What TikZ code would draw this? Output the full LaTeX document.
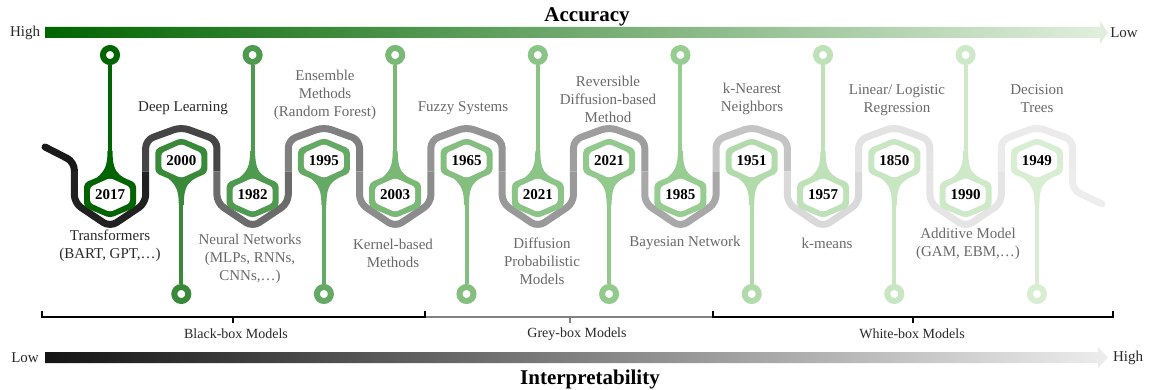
\documentclass[tikz,border=0pt]{standalone}
\usepackage{fontspec}
\setmainfont{Liberation Serif}
\usepackage{tikz}
\usetikzlibrary{positioning}

\definecolor{g0}{RGB}{0,100,0}
\definecolor{g1}{RGB}{56,138,56}
\definecolor{g2}{RGB}{78,154,78}
\definecolor{g3}{RGB}{100,170,100}
\definecolor{g4}{RGB}{122,184,118}
\definecolor{g5}{RGB}{132,191,128}
\definecolor{g6}{RGB}{138,196,134}
\definecolor{g7}{RGB}{146,201,140}
\definecolor{g8}{RGB}{152,205,146}
\definecolor{g9}{RGB}{178,219,172}
\definecolor{g10}{RGB}{190,225,184}
\definecolor{g11}{RGB}{200,230,194}
\definecolor{g12}{RGB}{206,233,200}
\definecolor{g13}{RGB}{216,238,210}
\definecolor{accmid}{RGB}{140,182,136}
\definecolor{acclight}{RGB}{226,239,222}
\definecolor{txtdark}{RGB}{40,40,40}
\definecolor{txtgray}{RGB}{105,105,105}

\tikzset{
    yr/.style={font=\fontsize{15}{18}\selectfont\bfseries, inner sep=0pt},
    lbl/.style={font=\fontsize{15}{18}\selectfont, align=center, text=txtgray, inner sep=0pt},
    axlbl/.style={font=\fontsize{15}{18}\selectfont, text=txtdark, inner sep=0pt},
    axtitle/.style={font=\fontsize{21}{21}\selectfont\bfseries, inner sep=0pt},
    brklbl/.style={font=\fontsize{14}{16}\selectfont, text=txtdark, inner sep=0pt},
    pinring/.style={circle, draw, fill=white, line width=6pt, minimum size=14pt, inner sep=0pt},
    stem/.style={line width=4pt},
    snake/.style={line width=7pt, rounded corners=8pt},
    brk/.style={line width=2pt},
    lowpin/.pic={
        \fill[fill=#1] (-2.5,-44) .. controls (-2.5,-30) and (-5,-24) .. (-13,-17.5)
            [rounded corners=4pt] -- (-26,-12) -- (-26,12) -- (0,23) -- (26,12) -- (26,-12) -- (13,-17.5)
            [sharp corners] .. controls (5,-24) and (2.5,-30) .. (2.5,-44) -- cycle;
        \fill[white, rounded corners=3pt] (0,-17) -- (20,-8) -- (20,8) -- (0,17) -- (-20,8) -- (-20,-8) -- cycle;
        \coordinate (-neck) at (0,-43);
    },
    highpin/.pic={
        \fill[fill=#1] (-2.5,44) .. controls (-2.5,30) and (-5,24) .. (-13,17.5)
            [rounded corners=4pt] -- (-26,12) -- (-26,-12) -- (0,-23) -- (26,-12) -- (26,12) -- (13,17.5)
            [sharp corners] .. controls (5,24) and (2.5,30) .. (2.5,44) -- cycle;
        \fill[white, rounded corners=3pt] (0,17) -- (20,8) -- (20,-8) -- (0,-17) -- (-20,-8) -- (-20,8) -- cycle;
        \coordinate (-neck) at (0,43);
    }
}

\begin{document}
\begin{tikzpicture}[x=1pt, y=-1pt]
    \useasboundingbox (0,0) rectangle (1155,390);

    % Axes
    \shade[left color=g0, middle color=accmid, right color=acclight]
        (45,27) -- (1100,27) -- (1100,21) -- (1108,32.5) -- (1100,44) -- (1100,38) -- (45,38) -- cycle;
    \shade[left color=black!92, middle color=black!45, right color=black!7]
        (45,352) -- (1098,352) -- (1098,347) -- (1108,357.5) -- (1098,368) -- (1098,363) -- (45,363) -- cycle;
    \node[axtitle] (acc) at (587,17) {Accuracy};
    \node[axtitle] (interp) at (590,379) {Interpretability};
    \node[axlbl] (acchigh) at (25,33) {High};
    \node[axlbl] (acclow) at (1124,33) {Low};
    \node[axlbl] (intlow) at (25,358) {Low};
    \node[axlbl] (inthigh) at (1128,358) {High};

    % Snake
    \draw[snake, draw=black!90, line cap=round] (45,147) -- (74.35,162) -- (74.35,171.5);
    \foreach \x/\sh/\pk/\s in {110/203/227/87, 181.3/140/127/73, 252.6/203/227/58, 323.9/140/127/50,
        395.2/203/227/45, 466.5/140/127/42, 537.8/203/227/40, 609.1/140/127/38, 680.4/203/227/34,
        751.7/140/127/23, 823/203/227/15, 894.3/140/127/11, 965.6/203/227/10, 1036.9/140/127/8}
        \draw[snake, draw=black!\s] (\x-35.65,171.5) -- (\x-35.65,\sh) -- (\x,\pk) -- (\x+35.65,\sh) -- (\x+35.65,171.5);
    \draw[snake, draw=black!7, line cap=round] (1072.55,171.5) -- (1072.55,190) -- (1102,204);

    % Pins
    \foreach \i/\x/\c/\yr in {0/110/g0/2017, 2/252.6/g2/1982, 4/395.2/g4/2003, 6/537.8/g6/2021,
        8/680.4/g8/1985, 10/823/g10/1957, 12/965.6/g12/1990} {
        \pic (p\i) at (\x,195) {lowpin=\c};
        \node[yr] (y\i) at (\x,195) {\yr};
        \node[pinring, draw=\c] (r\i) at (\x,55) {};
        \draw[stem, draw=\c] (r\i) -- (p\i-neck);
    }
    \foreach \i/\x/\c/\yr in {1/181.3/g1/2000, 3/323.9/g3/1995, 5/466.5/g5/1965, 7/609.1/g7/2021,
        9/751.7/g9/1951, 11/894.3/g11/1850, 13/1036.9/g13/1949} {
        \pic (p\i) at (\x,161) {highpin=\c};
        \node[yr] (y\i) at (\x,161) {\yr};
        \node[pinring, draw=\c] (r\i) at (\x,294) {};
        \draw[stem, draw=\c] (r\i) -- (p\i-neck);
    }

    % Labels
    \node[lbl, text=txtdark] (trans) at (110,246) {Transformers\\(BART, GPT,\ldots)};
    \node[lbl, text=txtdark] (deep) at (183,108) {Deep Learning};
    \node[lbl] (nn) at (250,259) {Neural Networks\\(MLPs, RNNs,\\CNNs,\ldots)};
    \node[lbl] (ens) at (325,95) {Ensemble\\Methods\\(Random Forest)};
    \node[lbl] (kern) at (393,253) {Kernel-based\\Methods};
    \node[lbl] (fuzzy) at (463,108) {Fuzzy Systems};
    \node[lbl] (diff) at (542,261) {Diffusion\\Probabilistic\\Models};
    \node[lbl] (rev) at (608,99) {Reversible\\Diffusion-based\\Method};
    \node[lbl] (bayes) at (685,243) {Bayesian Network};
    \node[lbl] (knn) at (752,99) {k-Nearest\\Neighbors};
    \node[lbl] (kmeans) at (827,243) {k-means};
    \node[lbl] (lin) at (897,100) {Linear/ Logistic\\Regression};
    \node[lbl] (add) at (968,244) {Additive Model\\(GAM, EBM,\ldots)};
    \node[lbl] (dec) at (1037,99) {Decision\\Trees};

    % Brackets
    \draw[brk, draw=gray] (425,317) -- (713,317);
    \draw[brk, draw=gray] (570,317) -- (570,323);
    \draw[brk] (42,311) -- (42,317) -- (425,317) -- (425,311);
    \draw[brk] (233,317) -- (233,323);
    \draw[brk] (713,311) -- (713,317) -- (1113,317) -- (1113,311);
    \draw[brk] (913,317) -- (913,323);
    \node[brklbl] (black) at (236,334) {Black-box Models};
    \node[brklbl] (grey) at (577,334) {Grey-box Models};
    \node[brklbl] (white) at (912,334) {White-box Models};
\end{tikzpicture}
\end{document}
